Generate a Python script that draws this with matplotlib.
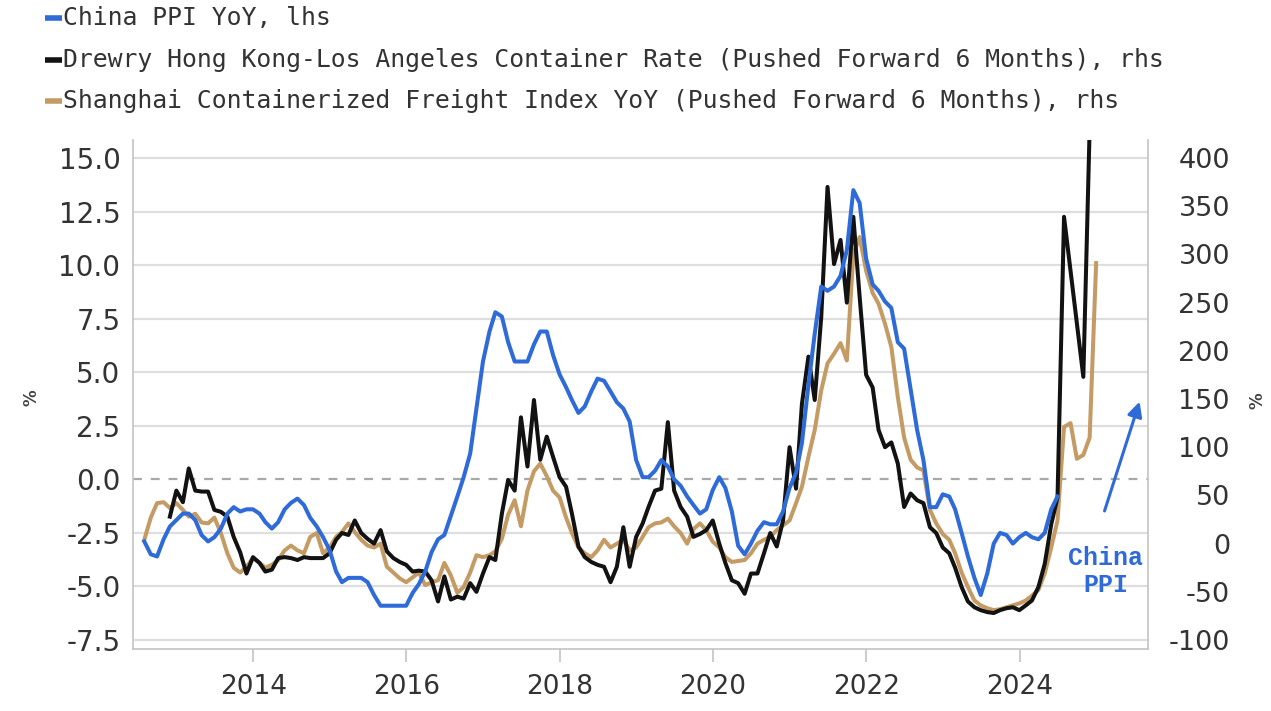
import numpy as np
import pandas as pd
import matplotlib
matplotlib.use("Agg")
import matplotlib.pyplot as plt
import matplotlib.dates as mdates
from matplotlib.lines import Line2D

plt.rcParams["axes.unicode_minus"] = False

# ---------------------------------------------------------------- data
# China PPI YoY (%), monthly, Jul 2012 - Jun 2024 (left axis)
ppi_start = "2012-07"
ppi_yoy = [
    -2.9, -3.5, -3.6, -2.8, -2.2, -1.9,
    -1.6, -1.6, -1.9, -2.6, -2.9, -2.7, -2.3, -1.6, -1.3, -1.5, -1.4, -1.4,
    -1.6, -2.0, -2.3, -2.0, -1.4, -1.1, -0.9, -1.2, -1.8, -2.2, -2.7, -3.3,
    -4.3, -4.8, -4.6, -4.6, -4.6, -4.8, -5.4, -5.9, -5.9, -5.9, -5.9, -5.9,
    -5.3, -4.9, -4.3, -3.4, -2.8, -2.6, -1.7, -0.8, 0.1, 1.2, 3.3, 5.5,
    6.9, 7.8, 7.6, 6.4, 5.5, 5.5, 5.5, 6.3, 6.9, 6.9, 5.8, 4.9,
    4.3, 3.7, 3.1, 3.4, 4.1, 4.7, 4.6, 4.1, 3.6, 3.3, 2.7, 0.9,
    0.1, 0.1, 0.4, 0.9, 0.6, 0.0, -0.3, -0.8, -1.2, -1.6, -1.4, -0.5,
    0.1, -0.4, -1.5, -3.1, -3.5, -3.0, -2.4, -2.0, -2.1, -2.1, -1.5, -0.4,
    0.3, 1.7, 4.4, 6.8, 9.0, 8.8, 9.0, 9.5, 10.7, 13.5, 12.9, 10.3,
    9.1, 8.8, 8.3, 8.0, 6.4, 6.1, 4.2, 2.3, 0.9, -1.3, -1.3, -0.7,
    -0.8, -1.4, -2.5, -3.6, -4.6, -5.4, -4.4, -3.0, -2.5, -2.6, -3.0, -2.7,
    -2.5, -2.7, -2.8, -2.5, -1.4, -0.8,
]

# Drewry Hong Kong-Los Angeles container rate YoY (%), pushed forward
# 6 months, monthly Nov 2012 - Nov 2024 (right axis); NaN = no print
drewry_start = "2012-11"
drewry_yoy = [
    28, 55,
    43, 78, 55, 54, 54, 35, 33, 28, 7, -9, -31, -14,
    -20, -29, -27, -15, -14, -15, -17, -14, -15, -15, -15, -10,
    4, 11, 9, 24, 11, 5, 0, 14, -8, -15, -19, -22,
    -29, -28, -29, -38, -60, -34, -58, -55, -57, -41, -50, -31,
    -14, -17, 31, 66, 55, 131, 80, 149, 87, 111, 90, 69,
    59, 31, -3, -14, -19, -22, -24, -40, -24, 17, -24, 7,
    21, 38, 55, 57, 126, 55, 38, 28, 7, 10, 14, 24,
    0, -20, -38, -41, -52, -31, -31, -10, 11, -3, 24, 100,
    57, 145, 194, 149, 235, 370, 290, 315, 250, 339, 256, 175,
    162, 118, 100, 105, 83, 38, 52, 45, 42, 17, 11, -4,
    -10, -25, -45, -60, -66, -69, -71, -72, -69, -67, -66, -69,
    -64, -59, -45, -21, 20, 48, 339, np.nan, np.nan, 173, 430,
]

# Shanghai Containerized Freight Index YoY (%), pushed forward 6 months,
# monthly Jul 2012 - Dec 2024 (right axis)
scfi_start = "2012-07"
scfi_yoy = [
    4, 27, 42, 43, 37, 42,
    35, 28, 31, 22, 21, 27, 11, -10, -25, -30, -24, -15,
    -20, -25, -22, -17, -7, -2, -7, -10, 7, 11, -10, -4,
    7, 12, 21, 12, 4, -2, -4, 0, -24, -30, -36, -40,
    -35, -30, -43, -40, -38, -20, -33, -51, -45, -30, -12, -14,
    -12, -8, 5, 30, 45, 18, 55, 75, 83, 70, 55, 48,
    27, 11, -4, -10, -14, -7, 4, -4, 0, 4, -7, -4,
    7, 17, 21, 22, 26, 18, 11, 0, 15, 21, 14, 2,
    -4, -14, -19, -18, -17, -10, 0, 4, 7, 14, 19, 24,
    42, 59, 90, 118, 159, 187, 197, 208, 190, 300, 318, 283,
    260, 249, 228, 204, 152, 110, 87, 79, 76, 35, 21, 10,
    4, -10, -30, -45, -59, -64, -67, -69, -68, -66, -64, -62,
    -59, -54, -48, -31, -4, 24, 121, 125, 88, 92, 110, 291,
]

legend_labels = [
    "China PPI YoY, lhs",
    "Drewry Hong Kong-Los Angeles Container Rate (Pushed Forward 6 Months), rhs",
    "Shanghai Containerized Freight Index YoY (Pushed Forward 6 Months), rhs",
]
left_ticks = [-7.5, -5.0, -2.5, 0.0, 2.5, 5.0, 7.5, 10.0, 12.5, 15.0]
right_ticks = [-100, -50, 0, 50, 100, 150, 200, 250, 300, 350, 400]

# ---------------------------------------------------------------- style
BLUE = "#2e6ad8"
BLACK = "#121212"
BROWN = "#c49b64"
TEXT = "#333333"
MONO = ["DejaVu Sans Mono"]

L_LIM = (-7.92, 15.84)
R_LIM = (-109.3, 418.7)


def left_to_right(v):
    return R_LIM[0] + (v - L_LIM[0]) * (R_LIM[1] - R_LIM[0]) / (L_LIM[1] - L_LIM[0])


def monthly(start, values):
    idx = pd.date_range(start, periods=len(values), freq="ME")
    return pd.Series(values, index=idx, dtype=float).dropna()


ppi = monthly(ppi_start, ppi_yoy)
drewry = monthly(drewry_start, drewry_yoy)
scfi = monthly(scfi_start, scfi_yoy)

fig = plt.figure(figsize=(12.71, 7.11), dpi=100)
fig.patch.set_facecolor("white")

# freight axes underneath (right scale), PPI axes on top (left scale)
ax_r = fig.add_axes([0.1046, 0.0872, 0.7986, 0.7159])
ax_l = ax_r.twinx()
ax_r.yaxis.tick_right()
ax_l.yaxis.tick_left()
ax_l.yaxis.set_label_position("left")

ax_r.set_ylim(*R_LIM)
ax_l.set_ylim(*L_LIM)
ax_r.set_xlim(pd.Timestamp("2012-06-07"), pd.Timestamp("2025-09-04"))

# horizontal grid at the left-axis ticks, zero line dashed
for v in left_ticks:
    if v == 0:
        ax_r.axhline(left_to_right(v), color="#a8a8a8", lw=1.6,
                     dashes=(4, 4), zorder=0)
    else:
        ax_r.axhline(left_to_right(v), color="#dedede", lw=1.6, zorder=0)

ax_r.plot(scfi.index, scfi.values, color=BROWN, lw=2.9, zorder=2,
          solid_joinstyle="round")
ax_r.plot(drewry.index, drewry.values, color=BLACK, lw=2.9, zorder=3,
          solid_joinstyle="round")
ax_l.plot(ppi.index, ppi.values, color=BLUE, lw=2.9, zorder=3,
          solid_joinstyle="round")

# spines
for a in (ax_r, ax_l):
    a.spines["top"].set_visible(False)
for s in ("left", "right", "bottom"):
    ax_r.spines[s].set_color("#c4c4c4")
    ax_r.spines[s].set_linewidth(1.2)
    ax_l.spines[s].set_visible(False)

# x axis
ax_r.xaxis.set_major_locator(mdates.YearLocator(2))
ax_r.xaxis.set_major_formatter(mdates.DateFormatter("%Y"))
ax_r.tick_params(axis="x", direction="out", length=9, width=1.2,
                 color="#c4c4c4", labelsize=19, labelcolor=TEXT, pad=9)

# y axes
ax_l.set_yticks(left_ticks)
ax_l.set_yticklabels([f"{v:.1f}" for v in left_ticks])
ax_l.tick_params(axis="y", length=0, labelsize=20, labelcolor=TEXT, pad=9)
ax_r.set_yticks(right_ticks)
ax_r.set_yticklabels([str(v) for v in right_ticks])
ax_r.tick_params(axis="y", length=0, labelsize=19.5, labelcolor=TEXT, pad=59)
for lbl in ax_r.get_yticklabels():
    lbl.set_horizontalalignment("right")

fig.text(0.025, 0.44, "%", rotation=90, fontsize=12, fontweight="bold",
         color="#444444", ha="center", va="center")
fig.text(0.989, 0.437, "%", rotation=90, fontsize=12, fontweight="bold",
         color="#444444", ha="center", va="center")

# legend rows
for i, (lab, col) in enumerate(zip(legend_labels, [BLUE, BLACK, BROWN])):
    y = 1 - (18 + 41.5 * i) / 711
    fig.add_artist(Line2D([45 / 1271, 62 / 1271], [y, y], color=col, lw=4,
                          transform=fig.transFigure, solid_capstyle="butt"))
    fig.text(63 / 1271, y, lab, fontsize=17.8, family=MONO, color=TEXT,
             ha="left", va="center")

# China PPI callout
ax_l.annotate("", xy=(pd.Timestamp("2025-07-30"), 3.75),
              xytext=(pd.Timestamp("2025-02-05"), -1.6),
              arrowprops=dict(arrowstyle="-|>", color=BLUE, lw=2.2,
                              mutation_scale=22))
ax_l.text(pd.Timestamp("2025-02-15"), -4.3, "China\nPPI", color=BLUE,
          fontsize=18, family=["Liberation Mono", "DejaVu Sans Mono"],
          fontweight="bold", ha="center", va="center", linespacing=1.2)

fig.savefig("out.png", dpi=100, facecolor="white")
